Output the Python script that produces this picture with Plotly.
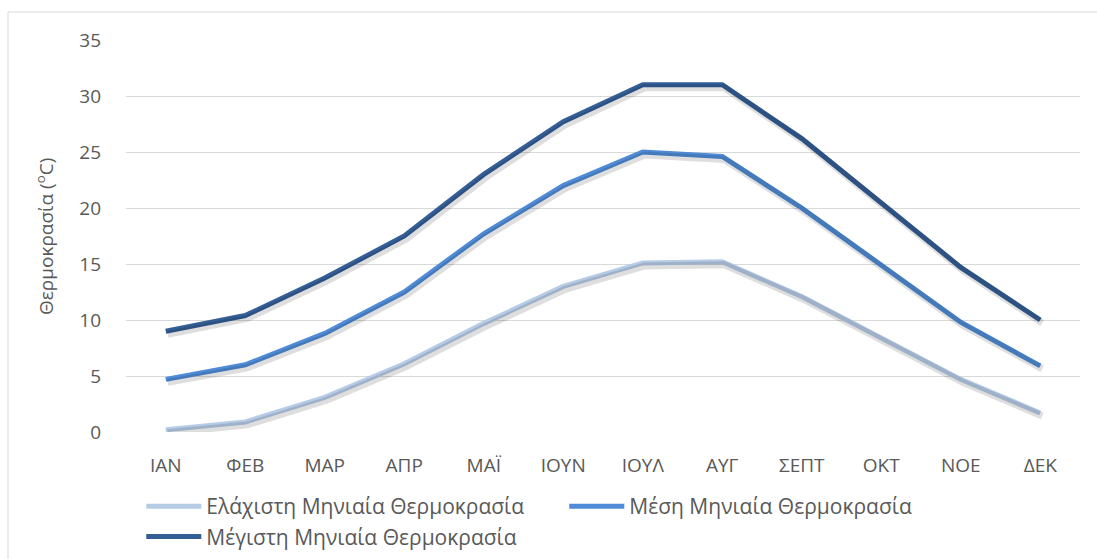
import plotly.graph_objects as go

months = ["ΙΑΝ", "ΦΕΒ", "ΜΑΡ", "ΑΠΡ", "ΜΑΪ", "ΙΟΥΝ", "ΙΟΥΛ", "ΑΥΓ", "ΣΕΠΤ", "ΟΚΤ", "ΝΟΕ", "ΔΕΚ"]
t_min = [0.2, 0.9, 3.1, 6.1, 9.7, 13.0, 15.1, 15.2, 12.1, 8.4, 4.7, 1.7]
t_mean = [4.7, 6.0, 8.8, 12.5, 17.7, 22.0, 25.0, 24.6, 20.0, 14.9, 9.8, 5.9]
t_max = [9.0, 10.4, 13.75, 17.5, 23.0, 27.7, 31.0, 31.0, 26.2, 20.4, 14.7, 10.0]

names = ["Ελάχιστη Μηνιαία Θερμοκρασία", "Μέση Μηνιαία Θερμοκρασία", "Μέγιστη Μηνιαία Θερμοκρασία"]
colors = ["#B6CCE6", "#4F8BD6", "#335E96"]
series = [t_min, t_mean, t_max]

FONT = "Open Sans"
W, H = 1097, 559
L, R, T, B = 126, 17, 40, 127
pw, ph = W - L - R, H - T - B

xr = [-0.5, 11.5]
yr = [0, 35]
# shadow offset (pixels) expressed as axis range shift
dx_px, dy_px = 2, 3
sx = dx_px * (xr[1] - xr[0]) / pw
sy = dy_px * (yr[1] - yr[0]) / ph

fig = go.Figure()
for vals in series:
    fig.add_trace(go.Scatter(x=months, y=vals, mode="lines", xaxis="x2", yaxis="y2",
                             line=dict(color="rgba(0,0,0,0.13)", width=7),
                             showlegend=False, hoverinfo="skip"))
for vals, name, col in zip(series, names, colors):
    fig.add_trace(go.Scatter(x=months, y=vals, mode="lines", name=name,
                             line=dict(color=col, width=5)))

fig.update_layout(
    width=W, height=H,
    margin=dict(l=L, r=R, t=T, b=B, autoexpand=False),
    paper_bgcolor="white", plot_bgcolor="white",
    font=dict(family=FONT, color="#595959", size=19),
    xaxis=dict(type="category", range=xr, showgrid=False, zeroline=False, showline=False,
               ticks="", tickfont=dict(size=19, color="#595959"), ticklabelstandoff=20,
               automargin=False),
    yaxis=dict(range=yr, dtick=5, showgrid=True, gridcolor="#D9D9D9", gridwidth=1,
               zeroline=False, showline=False, ticks="", tickfont=dict(size=19, color="#595959"),
               ticklabelstandoff=24, automargin=False),
    xaxis2=dict(type="category", range=[xr[0] - sx, xr[1] - sx], overlaying="x",
                visible=False, categoryarray=months),
    yaxis2=dict(range=[yr[0] + sy, yr[1] + sy], overlaying="y", visible=False),
    legend=dict(orientation="h", x=0.016, xanchor="left", y=-0.138, yanchor="top",
                font=dict(size=21, color="#595959"), itemwidth=55,
                entrywidth=353, entrywidthmode="pixels", tracegroupgap=0,
                bgcolor="rgba(0,0,0,0)"),
    showlegend=True,
    annotations=[dict(text="Θερμοκρασία (<sup>o</sup>C)", textangle=-90, xref="paper", yref="paper",
                      x=(45 - L) / pw, y=(H - B - 237) / ph, showarrow=False,
                      font=dict(size=19, color="#595959"), xanchor="center", yanchor="middle")],
    shapes=[dict(type="rect", xref="paper", yref="paper",
                 x0=(8 - L) / pw, x1=(1110 - L) / pw,
                 y0=(H - B - 575) / ph, y1=(H - B - 12) / ph,
                 line=dict(color="#D9D9D9", width=1), layer="below")],
)

fig.write_html("out.html", config={"displayModeBar": False},
               post_script="document.body.style.margin='0';")
